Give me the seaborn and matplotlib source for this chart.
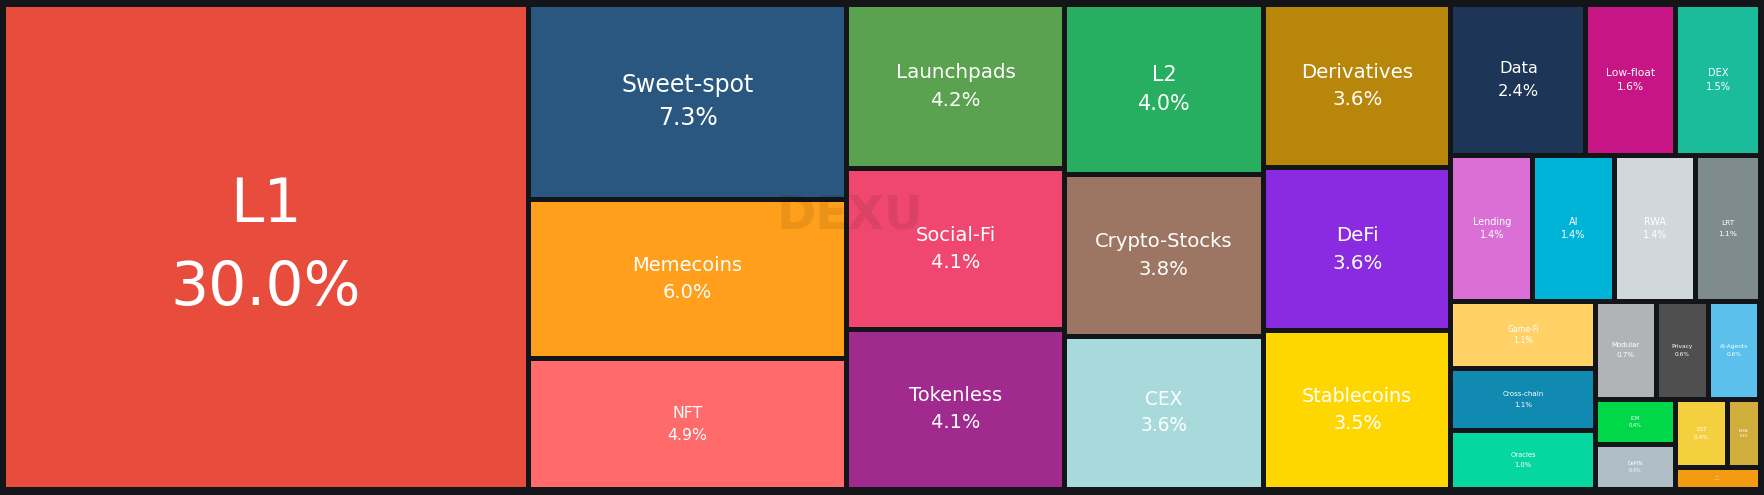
import matplotlib
matplotlib.use("Agg")
import matplotlib.pyplot as plt
from matplotlib.patches import Rectangle
import seaborn as sns

# Sector shares (%) (tile areas used to refine the small ones)
sectors = ["L1", "Sweet-spot", "Memecoins", "NFT", "Launchpads", "Social-Fi",
           "Tokenless", "L2", "Crypto-Stocks", "CEX", "Derivatives", "DeFi",
           "Stablecoins", "Data", "Low-float", "DEX", "Lending", "AI", "RWA",
           "LRT", "Game-Fi", "Cross-chain", "Oracles", "Modular", "Privacy",
           "AI-Agents", "ICM", "DePIN", "LST", "DeFAI", "SSI"]
shares = [30.0, 7.3, 6.0, 4.9, 4.2, 4.1,
          4.1, 4.0, 3.8, 3.6, 3.6, 3.6,
          3.5, 2.4, 1.6, 1.5, 1.4, 1.4, 1.4,
          1.1, 1.14, 1.06, 1.0, 0.7, 0.6,
          0.6, 0.43, 0.42, 0.42, 0.26, 0.22]
colors = ["#E74C3C", "#29577F", "#FF9F1C", "#FF6B6B", "#5AA150", "#EF476F",
          "#A12A8E", "#27AE60", "#9C7662", "#A8DADC", "#B8860B", "#8A2BE2",
          "#FFD700", "#1D3557", "#C71585", "#1ABC9C", "#DA70D6", "#00B4D8", "#D0D7DD",
          "#7F8C8D", "#FFD166", "#118AB2", "#06D6A0", "#B1B4B5", "#4F4F4F",
          "#5BC0EB", "#00D84A", "#B0BEC5", "#F4D03F", "#D1AE3B", "#F39C12"]

W, H = 1764, 495
BG = "#141519"


def squarify(values, x0, y0, x1, y1, ratio=(1 + 5 ** 0.5) / 2):
    # d3-style squarified tiling
    rects = []
    value = float(sum(values))
    n = len(values)
    i0 = 0
    while i0 < n:
        dx, dy = x1 - x0, y1 - y0
        i1 = i0
        s = values[i1]
        i1 += 1
        mn = mx = s
        alpha = max(dy / dx, dx / dy) / (value * ratio)
        beta = s * s * alpha
        best = max(mx / beta, beta / mn)
        while i1 < n:
            v = values[i1]
            s2 = s + v
            mn2, mx2 = min(mn, v), max(mx, v)
            beta = s2 * s2 * alpha
            r = max(mx2 / beta, beta / mn2)
            if r > best:
                break
            s, mn, mx, best = s2, mn2, mx2, r
            i1 += 1
        row = values[i0:i1]
        if dx < dy:
            h = dy * s / value
            xx = x0
            for v in row:
                w = dx * v / s
                rects.append((xx, y0, w, h))
                xx += w
            y0 += h
        else:
            w = dx * s / value
            yy = y0
            for v in row:
                h = dy * v / s
                rects.append((x0, yy, w, h))
                yy += h
            x0 += w
        value -= s
        i0 = i1
    return rects


sns.set_theme(style="dark", rc={"figure.facecolor": BG, "axes.facecolor": BG})
plt.rcParams["font.family"] = ["DejaVu Sans"]

fig = plt.figure(figsize=(W / 100, H / 100), dpi=100)
ax = fig.add_axes([0, 0, 1, 1])
ax.set_xlim(0, W)
ax.set_ylim(H, 0)
ax.axis("off")

# faint watermark
ax.text(850, 216, "DEXU", ha="center", va="center", fontsize=34, fontweight="bold",
        color="black", alpha=0.08, zorder=2)

pad = 2.5
rects = squarify(shares, 3, 4.5, 1760, 489.5)
for (x, y, w, h), name, val, c in zip(rects, sectors, shares, colors):
    ax.add_patch(Rectangle((x + pad, y + pad), w - 2 * pad, h - 2 * pad,
                           facecolor=c, edgecolor="none", zorder=1))
    iw, ih = w - 2 * pad, h - 2 * pad
    fs_px = min(0.125 * min(iw, ih), 0.85 * iw / (0.62 * max(len(name), 4)))
    fs = fs_px * 0.72
    cx, cy = x + w / 2, y + h / 2
    off = 0.7 * fs_px
    ax.text(cx, cy - off, name, ha="center", va="center", color="white",
            fontsize=fs, zorder=3)
    ax.text(cx, cy + off, f"{val:.1f}%", ha="center", va="center", color="white",
            fontsize=fs, zorder=3)

fig.savefig("out.png", dpi=100, facecolor=BG)
